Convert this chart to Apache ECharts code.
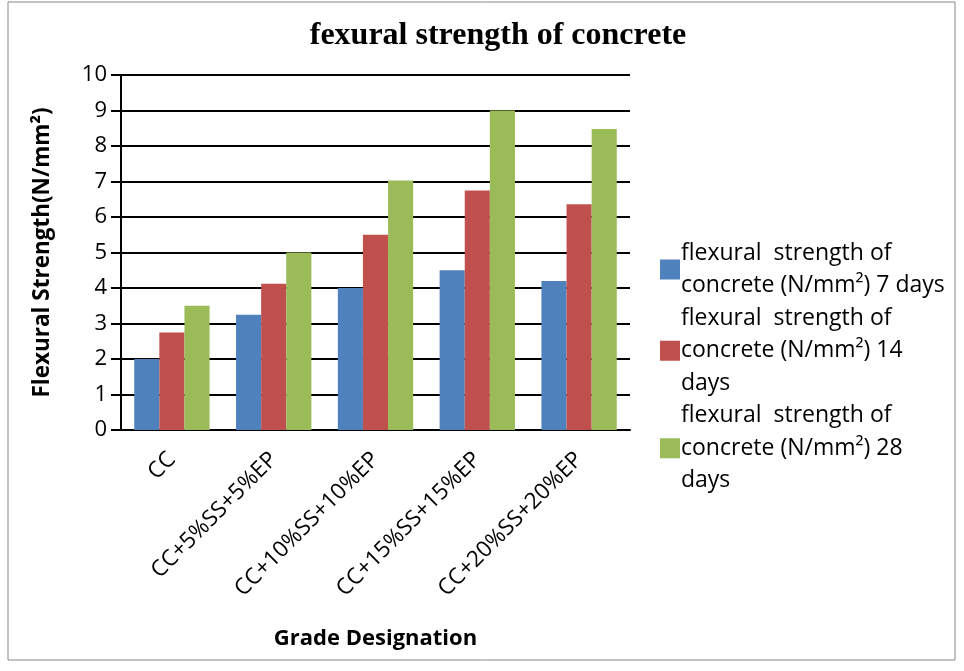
<!DOCTYPE html>
<html>
<head>
<meta charset="utf-8">
<script src="https://cdn.jsdelivr.net/npm/echarts@6/dist/echarts.min.js"></script>
<style>
  body { margin: 0; background: #fff; }
  #chart { width: 964px; height: 671px; }
</style>
</head>
<body>
<div id="chart"></div>
<script>
// categories and values
const grades = ['CC', 'CC+5%SS+5%EP', 'CC+10%SS+10%EP', 'CC+15%SS+15%EP', 'CC+20%SS+20%EP'];
const days7 = [2.0, 3.25, 4.0, 4.5, 4.2];
const days14 = [2.75, 4.12, 5.5, 6.75, 6.36];
const days28 = [3.5, 5.0, 7.03, 9.0, 8.48];
const seriesNames = [
  'flexural  strength of concrete (N/mm²) 7 days',
  'flexural  strength of concrete (N/mm²) 14 days',
  'flexural  strength of concrete (N/mm²) 28 days'
];
const legendText = [
  'flexural  strength of\nconcrete (N/mm²) 7 days',
  'flexural  strength of\nconcrete (N/mm²) 14\ndays',
  'flexural  strength of\nconcrete (N/mm²) 28\ndays'
];
const colors = ['#4F81BD', '#C0504D', '#9BBB59'];

const font = 'Open Sans, Lato, sans-serif';
const myChart = echarts.init(document.getElementById('chart'));

const option = {
  animation: false,
  color: colors,
  title: {
    text: 'fexural strength of concrete',
    left: 493,
    textAlign: 'center',
    top: 15,
    textStyle: { fontFamily: 'Liberation Serif, serif', fontWeight: 'bold', fontSize: 32, color: '#000' }
  },
  graphic: [{
    type: 'rect',
    shape: { x: 8, y: 2, width: 947, height: 658 },
    style: { fill: 'none', stroke: '#888', lineWidth: 1 }
  }],
  legend: {
    orient: 'vertical',
    left: 655,
    top: 232,
    itemWidth: 20,
    itemHeight: 20,
    itemGap: 0,
    icon: 'rect',
    data: seriesNames,
    formatter: function (name) {
      return legendText[seriesNames.indexOf(name)];
    },
    textStyle: { fontFamily: font, fontSize: 23, lineHeight: 32.5, color: '#000', padding: [0, 0, 0, -4] }
  },
  grid: { left: 121, right: 334, top: 75, bottom: 241 },
  xAxis: {
    type: 'category',
    data: grades,
    name: 'Grade Designation',
    nameLocation: 'middle',
    nameGap: 198,
    nameTextStyle: { fontFamily: font, fontWeight: 'bold', fontSize: 22, color: '#000' },
    axisLine: { lineStyle: { color: '#000', width: 2 } },
    axisTick: { show: false },
    axisLabel: { rotate: 45, fontFamily: font, fontSize: 22.5, color: '#000', margin: 26, interval: 0 }
  },
  yAxis: {
    type: 'value',
    min: 0,
    max: 10,
    interval: 1,
    name: 'Flexural Strength(N/mm²)',
    nameLocation: 'middle',
    nameGap: 67,
    nameTextStyle: { fontFamily: font, fontWeight: 'bold', fontSize: 22.5, color: '#000' },
    axisLine: { show: true, lineStyle: { color: '#000', width: 2 } },
    axisTick: { show: true, length: 10, lineStyle: { color: '#000', width: 2 } },
    splitLine: { lineStyle: { color: '#000', width: 2 } },
    axisLabel: { fontFamily: font, fontSize: 22, color: '#000', margin: 14 }
  },
  series: [
    { name: seriesNames[0], type: 'bar', data: days7, barGap: '0%', barCategoryGap: '26%' },
    { name: seriesNames[1], type: 'bar', data: days14, barGap: '0%', barCategoryGap: '26%' },
    { name: seriesNames[2], type: 'bar', data: days28, barGap: '0%', barCategoryGap: '26%' }
  ]
};
myChart.setOption(option);
</script>
</body>
</html>
